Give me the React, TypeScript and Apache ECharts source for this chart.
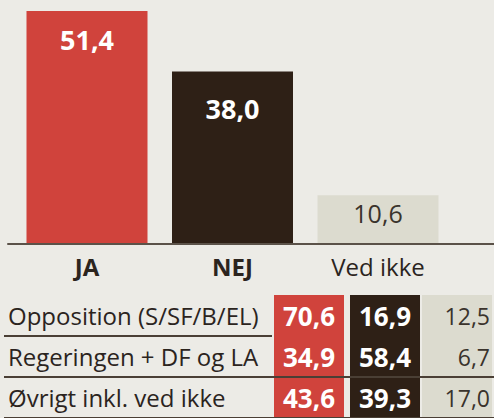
import React, { useEffect, useRef } from "react";
import * as echarts from "echarts";

// ---- data ----
const categories = ["JA", "NEJ", "Ved ikke"];
const totals = [51.4, 38.0, 10.6];
const groups = ["Opposition (S/SF/B/EL)", "Regeringen + DF og LA", "Øvrigt inkl. ved ikke"];
const jaByGroup = [70.6, 34.9, 43.6];
const nejByGroup = [16.9, 58.4, 39.3];
const vedIkkeByGroup = [12.5, 6.7, 17.0];

// ---- styles ----
const FONT = "'Open Sans', 'Noto Sans', sans-serif";
const BG = "#ECEBE6";
const colors = ["#D0433C", "#2E2016", "#DCDBCF"];
const valueTextColors = ["#FFFFFF", "#FFFFFF", "#3A332C"];
const valueWeights = ["bold", "bold", "normal"];
const barLabelSizes = [27, 27, 25];
const barLabelOffsets = [28, 37, 18];
const catWeights = ["bold", "bold", "normal"];
const cellShift = [0, 2, 0];
const TEXT = "#2B241E";
const LINE = "#4A3F35";

const fmt = (v: number) => v.toFixed(1).replace(".", ",");

export default function App() {
  const ref = useRef<HTMLDivElement>(null);
  useEffect(() => {
    document.body.style.margin = "0";
    document.body.style.background = BG;
    if (!ref.current) return;
    const chart = echarts.init(ref.current, undefined, { renderer: "svg" });

    const tableCols = [jaByGroup, nejByGroup, vedIkkeByGroup];
    const cellData: number[][] = [];
    groups.forEach((_, r) => {
      tableCols.forEach((col, c) => cellData.push([c, r, col[r]]));
    });

    chart.setOption({
      animation: false,
      backgroundColor: BG,
      textStyle: { fontFamily: FONT },
      grid: [
        { left: 14.25, width: 436.5, top: 11, bottom: 175 },
        { left: 8, right: 0, top: 11, bottom: 174 },
        { left: 272, right: -9, top: 295, bottom: -3 },
      ],
      xAxis: [
        {
          type: "category",
          gridIndex: 0,
          data: categories.map((c, i) => ({
            value: c,
            textStyle: { fontWeight: catWeights[i] },
          })),
          axisLine: { show: false },
          axisTick: { show: false },
          axisLabel: {
            margin: 11,
            fontSize: 24,
            color: TEXT,
            fontFamily: FONT,
          },
        },
        {
          type: "value",
          gridIndex: 1,
          min: 0,
          max: 1,
          axisLine: { show: true, lineStyle: { color: "#5B5249", width: 2 } },
          axisTick: { show: false },
          axisLabel: { show: false },
          splitLine: { show: false },
        },
        {
          type: "category",
          gridIndex: 2,
          data: categories,
          show: false,
        },
      ],
      yAxis: [
        {
          type: "value",
          gridIndex: 0,
          min: 0,
          max: Math.max(...totals),
          show: false,
        },
        { type: "value", gridIndex: 1, min: 0, max: 1, show: false },
        {
          type: "category",
          gridIndex: 2,
          data: groups,
          inverse: true,
          z: 5,
          axisLine: { show: false },
          axisTick: {
            show: true,
            length: 268,
            interval: (i: number) => i > 0,
            lineStyle: { color: LINE, width: 2 },
          },
          splitLine: {
            show: true,
            interval: (i: number) => i > 0,
            showMinLine: false,
            lineStyle: { color: LINE, width: 2 },
          },
          axisLabel: {
            margin: 264,
            align: "left",
            fontSize: 24,
            color: TEXT,
            fontFamily: FONT,
          },
        },
      ],
      series: [
        {
          type: "bar",
          xAxisIndex: 0,
          yAxisIndex: 0,
          barWidth: 121,
          data: totals.map((v, i) => ({
            value: v,
            itemStyle: { color: colors[i] },
            label: {
              show: true,
              position: ["50%", barLabelOffsets[i]],
              align: "center",
              verticalAlign: "middle",
              formatter: () => fmt(v),
              color: valueTextColors[i],
              fontWeight: valueWeights[i],
              fontSize: barLabelSizes[i],
              fontFamily: FONT,
            },
          })),
        },
        {
          type: "custom",
          xAxisIndex: 2,
          yAxisIndex: 2,
          data: cellData,
          renderItem: (params: any, api: any) => {
            const c = api.value(0);
            const r = api.value(1);
            const v = api.value(2);
            const pt = api.coord([c, r]);
            const size = api.size([1, 1]);
            const w = size[0] - 4;
            const h = size[1];
            const left = pt[0] - w / 2 + cellShift[c];
            const isLast = c === 2;
            return {
              type: "group",
              children: [
                {
                  type: "rect",
                  shape: { x: left, y: pt[1] - h / 2, width: w, height: h },
                  style: { fill: colors[c] },
                },
                {
                  type: "text",
                  x: isLast ? left + w - 2 : left + w / 2,
                  y: pt[1],
                  style: {
                    text: fmt(v),
                    fill: valueTextColors[c],
                    fontSize: c === 2 ? 23 : 26,
                    fontWeight: valueWeights[c],
                    fontFamily: FONT,
                    align: isLast ? "right" : "center",
                    verticalAlign: "middle",
                  },
                },
              ],
            };
          },
        },
      ],
    });
    return () => chart.dispose();
  }, []);
  return <div ref={ref} style={{ width: 494, height: 418, background: BG }} />;
}
